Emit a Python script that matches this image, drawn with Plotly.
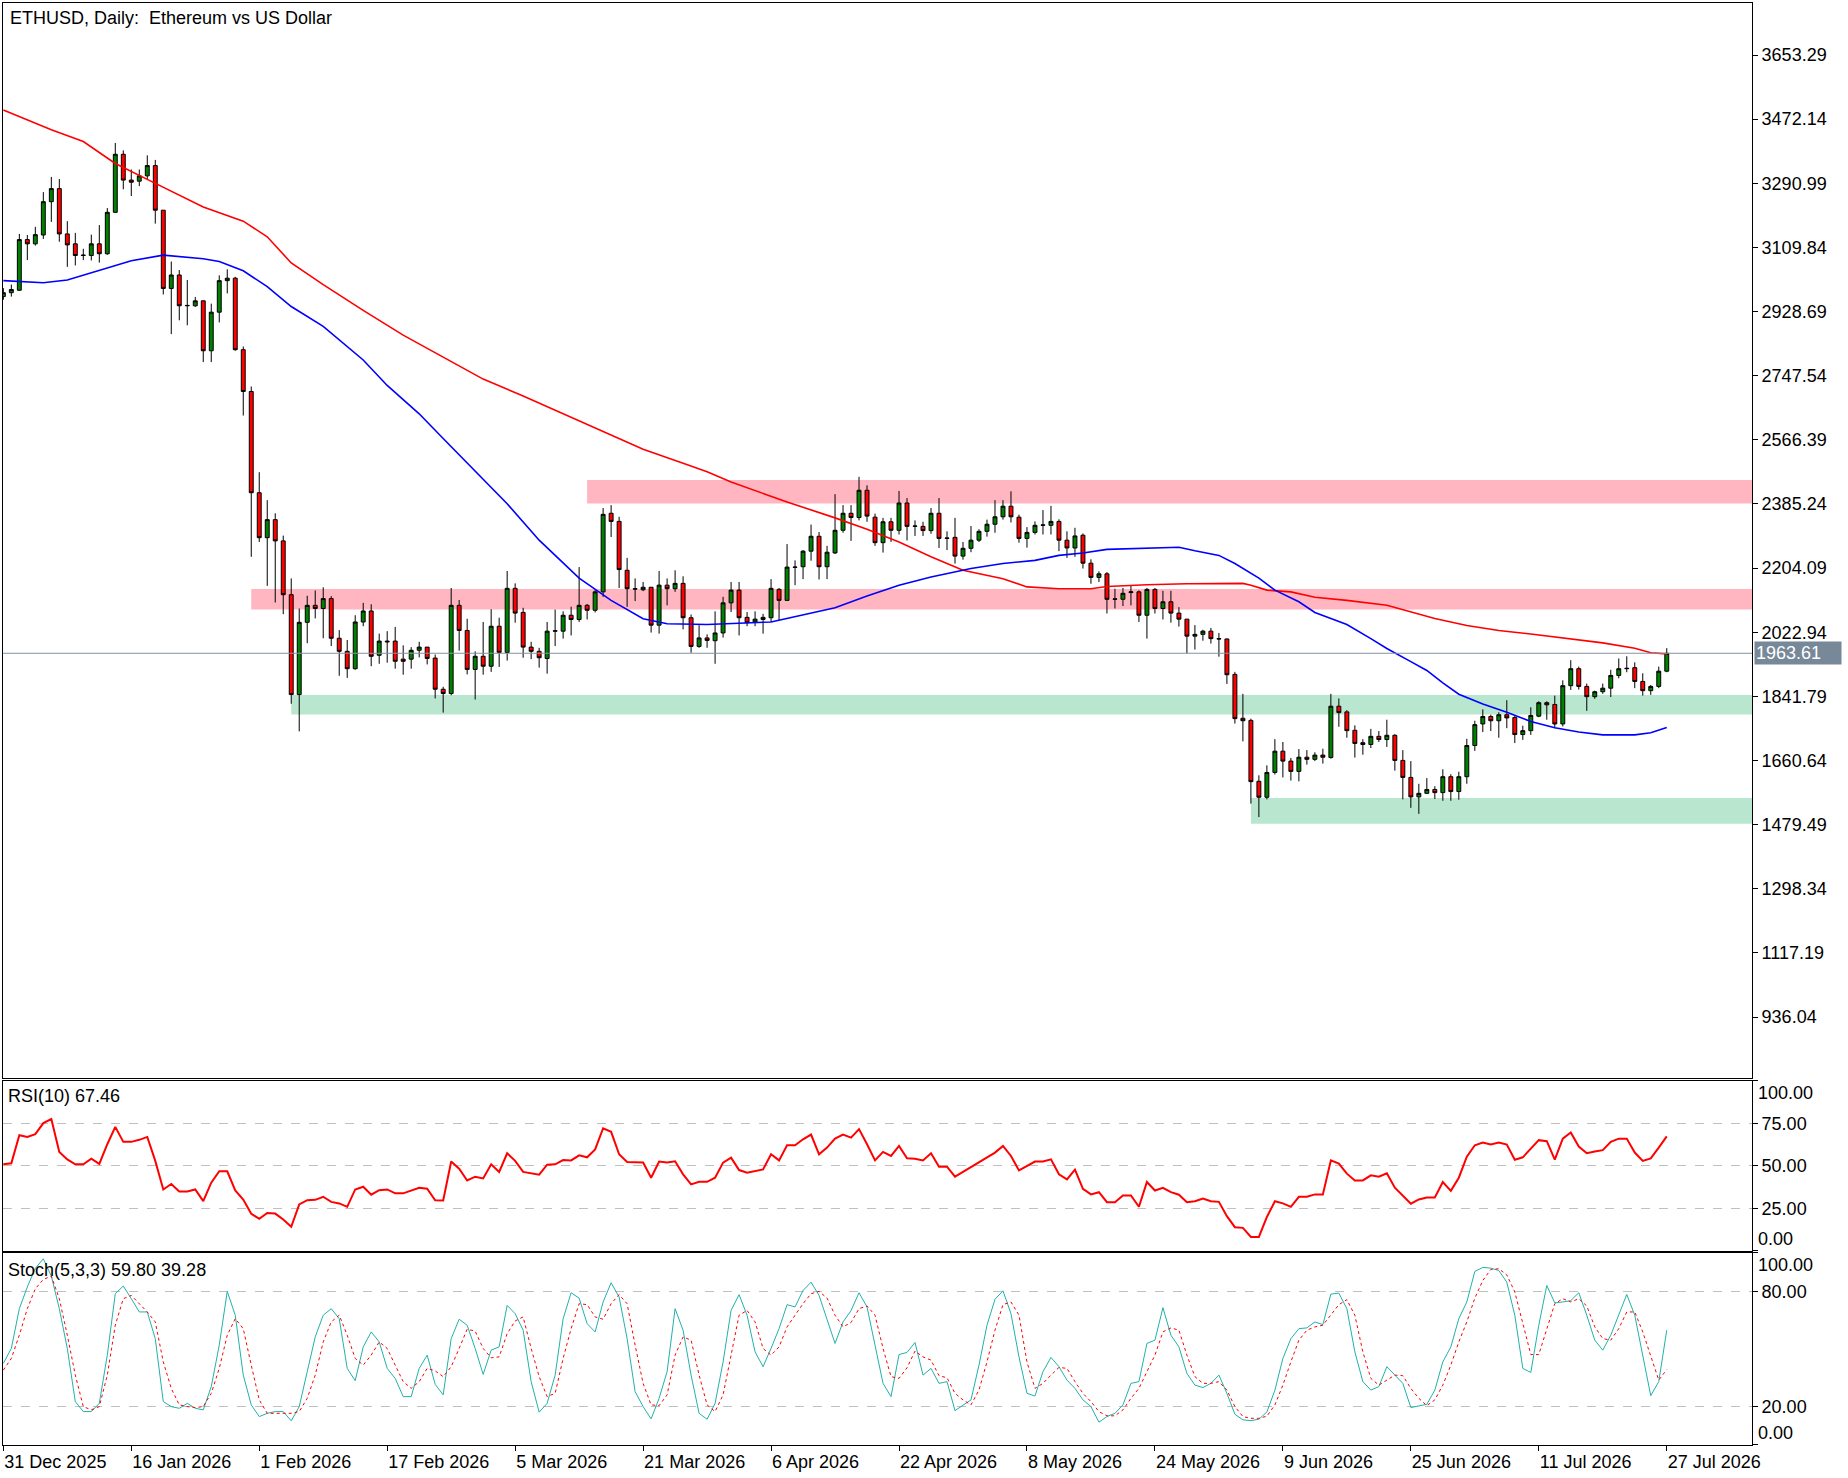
import pandas as pd
import plotly.graph_objects as go
from plotly.subplots import make_subplots

# daily ETHUSD bars, first one is 31 Dec 2025
start = pd.Timestamp("2025-12-31")

opens = [2971, 2982, 2989, 3132, 3120, 3145, 3239, 3276, 3148, 3120,
         3087, 3087, 3120, 3092, 3209, 3373, 3300, 3297, 3312, 3341,
         3215, 2994, 3032, 2945, 2945, 2959, 2818, 2927, 3016, 3023,
         2821, 2703, 2417, 2290, 2341, 2281, 2129, 1847, 2051, 2099,
         2090, 2118, 2006, 1969, 1920, 2052, 2083, 1958, 1998, 1998,
         1947, 1947, 1972, 1981, 1950, 1862, 1850, 2099, 2028, 1918,
         1955, 1927, 2040, 1966, 2147, 2079, 1981, 1969, 1949, 2026,
         2026, 2071, 2059, 2099, 2085, 2137, 2359, 2336, 2198, 2146,
         2143, 2150, 2043, 2156, 2146, 2161, 2064, 1983, 2007, 1999,
         2021, 2106, 2142, 2065, 2052, 2059, 2064, 2144, 2113, 2206,
         2208, 2252, 2294, 2208, 2247, 2311, 2359, 2347, 2424, 2348,
         2276, 2335, 2311, 2388, 2322, 2322, 2310, 2359, 2288, 2291,
         2238, 2260, 2283, 2308, 2328, 2349, 2379, 2348, 2288, 2305,
         2325, 2325, 2336, 2283, 2261, 2297, 2218, 2178, 2188, 2116,
         2116, 2135, 2137, 2071, 2144, 2090, 2109, 2077, 2060, 2012,
         2017, 2026, 2005, 2004, 1904, 1780, 1774, 1602, 1557, 1627,
         1687, 1659, 1630, 1670, 1664, 1676, 1669, 1814, 1798, 1746,
         1711, 1706, 1729, 1720, 1732, 1661, 1613, 1558, 1568, 1579,
         1570, 1615, 1573, 1615, 1703, 1764, 1785, 1773, 1790, 1782,
         1734, 1745, 1786, 1824, 1819, 1764, 1872, 1920, 1870, 1841,
         1855, 1865, 1901, 1920, 1923, 1884, 1858, 1870, 1913]
highs = [2995, 3005, 3148, 3145, 3168, 3266, 3309, 3303, 3184, 3151,
         3106, 3146, 3173, 3221, 3405, 3384, 3330, 3330, 3370, 3357,
         3215, 3070, 3046, 3018, 2970, 2960, 2951, 3031, 3048, 3027,
         2830, 2717, 2475, 2396, 2359, 2296, 2175, 2090, 2126, 2141,
         2150, 2125, 2029, 2001, 2071, 2106, 2102, 2019, 2026, 2038,
         1986, 1981, 1996, 1981, 1960, 1869, 2148, 2114, 2061, 1969,
         2052, 2088, 2064, 2196, 2161, 2092, 1996, 1979, 2052, 2087,
         2082, 2095, 2207, 2103, 2142, 2374, 2382, 2349, 2233, 2175,
         2165, 2151, 2196, 2175, 2198, 2181, 2073, 2043, 2017, 2082,
         2123, 2165, 2165, 2080, 2082, 2075, 2173, 2148, 2272, 2226,
         2255, 2327, 2306, 2267, 2413, 2382, 2382, 2462, 2438, 2358,
         2346, 2346, 2422, 2402, 2339, 2335, 2374, 2402, 2308, 2346,
         2278, 2323, 2314, 2341, 2396, 2396, 2421, 2355, 2320, 2336,
         2368, 2380, 2342, 2308, 2318, 2302, 2229, 2195, 2193, 2146,
         2148, 2156, 2141, 2148, 2148, 2140, 2140, 2094, 2060, 2043,
         2030, 2035, 2021, 2005, 1911, 1849, 1779, 1619, 1647, 1721,
         1713, 1668, 1693, 1690, 1684, 1694, 1849, 1836, 1803, 1760,
         1721, 1750, 1744, 1776, 1735, 1690, 1659, 1595, 1611, 1588,
         1636, 1622, 1629, 1722, 1773, 1805, 1790, 1797, 1831, 1788,
         1759, 1811, 1828, 1828, 1844, 1887, 1944, 1926, 1878, 1858,
         1878, 1917, 1949, 1955, 1938, 1907, 1874, 1926, 1978]
lows = [2962, 2971, 2987, 3074, 3115, 3134, 3182, 3126, 3055, 3059,
        3074, 3073, 3067, 3089, 3207, 3274, 3255, 3283, 3303, 3177,
        2977, 2865, 2904, 2890, 2942, 2786, 2786, 2898, 2980, 2818,
        2635, 2236, 2278, 2154, 2107, 2074, 1821, 1743, 1992, 2062,
        2006, 1984, 1900, 1894, 1917, 2040, 1927, 1934, 1937, 1920,
        1903, 1920, 1952, 1932, 1836, 1796, 1845, 1971, 1904, 1833,
        1903, 1911, 1925, 1943, 2050, 1951, 1947, 1923, 1906, 1984,
        2005, 2014, 2052, 2059, 2079, 2123, 2292, 2148, 2095, 2111,
        2139, 2022, 2019, 2099, 2137, 2031, 1965, 1979, 1979, 1934,
        2008, 2080, 2014, 2040, 2040, 2019, 2052, 2057, 2112, 2156,
        2173, 2225, 2172, 2173, 2244, 2304, 2281, 2339, 2335, 2267,
        2248, 2278, 2299, 2282, 2295, 2295, 2301, 2261, 2255, 2217,
        2228, 2249, 2278, 2293, 2304, 2341, 2333, 2276, 2262, 2299,
        2299, 2299, 2252, 2233, 2236, 2203, 2160, 2165, 2076, 2090,
        2097, 2099, 2052, 2005, 2076, 2059, 2050, 2039, 1963, 1974,
        1999, 1991, 1954, 1877, 1765, 1715, 1539, 1501, 1551, 1621,
        1613, 1604, 1602, 1649, 1659, 1652, 1666, 1756, 1725, 1669,
        1677, 1696, 1713, 1699, 1632, 1551, 1527, 1510, 1567, 1552,
        1547, 1547, 1550, 1595, 1688, 1741, 1744, 1725, 1752, 1710,
        1719, 1733, 1783, 1776, 1752, 1757, 1860, 1861, 1801, 1835,
        1849, 1840, 1893, 1910, 1865, 1844, 1846, 1865, 1910]
closes = [2982, 2991, 3132, 3120, 3146, 3239, 3276, 3148, 3117, 3087,
          3088, 3120, 3092, 3209, 3373, 3300, 3294, 3312, 3341, 3215,
          2994, 3032, 2945, 2946, 2959, 2818, 2927, 3016, 3023, 2821,
          2703, 2417, 2290, 2341, 2281, 2129, 1847, 2051, 2099, 2090,
          2118, 2006, 1969, 1920, 2052, 2083, 1955, 1998, 1996, 1941,
          1941, 1972, 1981, 1949, 1862, 1850, 2099, 2028, 1918, 1955,
          1927, 2040, 1966, 2147, 2077, 1981, 1969, 1951, 2026, 2027,
          2071, 2059, 2099, 2085, 2137, 2356, 2336, 2200, 2146, 2145,
          2150, 2043, 2156, 2146, 2161, 2064, 1983, 2007, 2000, 2021,
          2106, 2142, 2064, 2050, 2060, 2065, 2147, 2113, 2207, 2207,
          2252, 2294, 2208, 2249, 2311, 2359, 2347, 2424, 2351, 2276,
          2335, 2311, 2388, 2322, 2323, 2310, 2359, 2288, 2289, 2238,
          2260, 2283, 2308, 2328, 2349, 2379, 2349, 2288, 2305, 2325,
          2326, 2336, 2283, 2261, 2295, 2218, 2178, 2188, 2116, 2117,
          2133, 2137, 2071, 2144, 2090, 2109, 2077, 2060, 2012, 2017,
          2026, 2005, 2004, 1903, 1779, 1773, 1601, 1557, 1627, 1687,
          1659, 1630, 1670, 1664, 1676, 1670, 1814, 1796, 1745, 1709,
          1706, 1729, 1720, 1732, 1661, 1613, 1558, 1568, 1579, 1570,
          1615, 1573, 1615, 1703, 1762, 1785, 1773, 1790, 1781, 1734,
          1745, 1788, 1824, 1818, 1764, 1872, 1920, 1870, 1841, 1855,
          1865, 1901, 1920, 1921, 1884, 1858, 1870, 1913, 1963.61]

# moving averages, read at a few bars (bar number, price)
ma_red_bar = [0, 6, 10, 14, 18, 21, 25, 30, 33, 36, 40, 45, 50, 55, 60, 65, 70, 75, 80, 85,
              88, 91, 98, 104, 108, 112, 116, 120, 125, 128, 132, 136, 138, 143, 148, 155, 156,
              158, 161, 164, 168, 173, 176, 179, 183, 187, 191, 195, 200, 204, 206, 208]
ma_red = [3498, 3442, 3409, 3347, 3302, 3268, 3224, 3184, 3140, 3066, 3005, 2932, 2862, 2800,
          2738, 2690, 2640, 2590, 2540, 2500, 2476, 2447, 2391, 2346, 2314, 2278, 2236, 2198,
          2174, 2151, 2146, 2146, 2152, 2157, 2160, 2161, 2156, 2142, 2137, 2122, 2113, 2099,
          2080, 2062, 2042, 2028, 2018, 2006, 1993, 1978, 1965, 1962]
ma_blue_bar = [0, 5, 8, 12, 16, 20, 25, 27, 30, 33, 36, 40, 45, 48, 52, 55, 59, 63, 67, 72, 76,
               80, 83, 88, 96, 100, 104, 108, 112, 116, 121, 125, 129, 132, 135, 138, 143, 147,
               149, 152, 154, 157, 159, 162, 164, 168, 171, 173, 176, 178, 180, 182, 185, 188,
               191, 194, 197, 200, 204, 206, 208]
ma_blue = [3016, 3010, 3018, 3044, 3072, 3088, 3078, 3070, 3044, 2999, 2943, 2887, 2792, 2720,
           2640, 2570, 2478, 2386, 2283, 2176, 2113, 2061, 2047, 2045, 2052, 2071, 2092, 2125,
           2156, 2179, 2203, 2217, 2226, 2240, 2247, 2257, 2261, 2263, 2253, 2240, 2217, 2176,
           2142, 2109, 2079, 2045, 2005, 1977, 1940, 1915, 1880, 1848, 1820, 1797, 1771, 1753,
           1741, 1733, 1733, 1739, 1754]

rsi = [51.0, 51.6, 68.1, 67.1, 68.7, 75.2, 77.6, 58.3, 53.9, 51.0,
       51.0, 54.3, 51.2, 62.8, 73.0, 64.2, 64.2, 65.4, 67.1, 53.0,
       36.2, 39.4, 35.0, 35.0, 36.2, 29.3, 40.2, 46.9, 46.9, 35.6,
       30.3, 21.9, 18.9, 22.4, 22.0, 18.5, 14.2, 27.4, 29.9, 30.1,
       31.9, 28.9, 28.0, 26.0, 36.2, 37.8, 33.1, 35.8, 36.2, 33.9,
       33.9, 35.6, 37.2, 36.6, 29.8, 29.7, 52.6, 48.4, 41.5, 43.7,
       42.7, 51.0, 46.5, 57.5, 53.0, 46.5, 45.9, 44.9, 50.8, 51.0,
       53.5, 53.3, 56.3, 55.1, 59.8, 72.2, 70.1, 56.9, 52.4, 52.0,
       52.0, 43.1, 52.6, 52.0, 52.8, 45.1, 39.2, 40.7, 40.7, 43.1,
       52.0, 54.9, 47.6, 46.1, 47.0, 48.0, 56.9, 53.3, 62.2, 62.2,
       65.7, 68.5, 56.9, 60.8, 66.1, 68.5, 66.7, 71.7, 62.8, 53.3,
       58.3, 55.9, 61.8, 54.5, 54.3, 53.3, 57.5, 49.6, 49.6, 43.7,
       46.5, 49.4, 52.6, 55.3, 57.9, 61.8, 55.9, 47.4, 50.0, 52.6,
       52.6, 53.9, 45.1, 42.1, 47.8, 36.6, 33.3, 34.6, 28.7, 28.7,
       32.7, 32.7, 26.0, 40.6, 35.6, 37.2, 34.6, 33.1, 28.7, 29.3,
       30.9, 29.3, 28.9, 20.5, 14.0, 13.6, 8.3, 8.3, 20.0, 29.3,
       28.0, 26.0, 31.9, 31.9, 33.3, 33.3, 53.3, 51.4, 45.5, 41.5,
       41.5, 44.5, 43.7, 45.7, 37.2, 32.3, 27.8, 30.3, 31.5, 31.5,
       40.6, 35.4, 43.1, 55.5, 62.2, 63.8, 62.6, 63.8, 62.6, 53.7,
       55.1, 60.2, 65.2, 64.6, 53.7, 66.1, 69.7, 61.4, 57.5, 58.5,
       59.3, 64.2, 66.1, 66.1, 57.9, 53.0, 54.5, 60.8, 67.46]

stoch_k = [42.5, 50.3, 71.0, 82.3, 92.0, 97.0, 88.0, 71.0, 50.3, 22.6,
           17.4, 17.4, 21.7, 46.8, 78.8, 82.8, 76.2, 69.3, 69.3, 55.4,
           22.6, 20.0, 19.1, 21.7, 19.1, 18.3, 30.4, 52.0, 80.0, 67.6,
           36.4, 20.9, 14.8, 16.5, 17.4, 17.4, 12.6, 20.0, 38.2, 56.3,
           67.6, 71.0, 65.8, 39.9, 33.5, 51.1, 58.9, 53.7, 39.9, 34.7,
           25.2, 25.2, 39.9, 46.8, 31.6, 26.1, 55.4, 65.5, 62.4, 50.3,
           36.8, 49.4, 51.1, 72.7, 68.4, 59.8, 33.0, 17.1, 21.7, 36.4,
           65.8, 79.3, 76.5, 63.2, 58.9, 74.5, 84.5, 77.1, 55.4, 27.8,
           20.0, 13.6, 24.3, 38.2, 71.0, 59.8, 36.4, 16.5, 13.4, 21.7,
           43.3, 70.1, 78.3, 67.6, 48.5, 40.8, 50.3, 60.6, 73.1, 71.9,
           80.5, 84.8, 77.9, 65.8, 52.9, 64.1, 70.0, 79.3, 71.9, 52.0,
           32.1, 25.2, 47.1, 48.2, 53.4, 36.4, 39.9, 32.1, 33.0, 17.9,
           20.5, 23.5, 41.6, 62.4, 75.9, 80.3, 68.4, 45.9, 26.9, 25.5,
           38.2, 45.6, 40.8, 33.8, 29.5, 23.5, 20.0, 11.9, 14.8, 16.5,
           20.9, 32.1, 33.0, 52.9, 54.6, 71.5, 57.2, 51.1, 37.3, 31.2,
           29.9, 32.1, 36.4, 26.9, 16.0, 13.1, 12.7, 13.4, 17.2, 28.5,
           45.1, 55.4, 60.6, 61.0, 64.1, 62.7, 78.6, 79.1, 71.0, 48.5,
           33.0, 28.6, 30.4, 40.8, 36.4, 32.1, 19.5, 20.5, 21.2, 28.6,
           43.3, 51.1, 65.8, 74.5, 90.4, 92.5, 92.1, 90.9, 84.8, 67.6,
           39.9, 37.8, 62.4, 83.1, 74.0, 74.5, 75.2, 79.3, 67.6, 54.6,
           49.4, 57.2, 67.6, 78.4, 67.6, 46.8, 25.7, 33.0, 59.80]
stoch_d = [39.0, 45.1, 57.2, 71.0, 81.4, 86.2, 88.0, 76.2, 57.2, 36.4,
           20.0, 18.3, 20.0, 36.4, 62.4, 76.2, 77.9, 73.6, 69.3, 64.1,
           43.3, 29.5, 20.9, 20.0, 19.5, 20.0, 26.9, 39.9, 57.2, 65.8,
           60.6, 41.6, 23.5, 16.5, 16.5, 16.5, 16.5, 17.4, 24.3, 36.4,
           53.7, 64.1, 67.6, 57.2, 45.1, 41.6, 46.8, 53.7, 50.3, 41.6,
           33.0, 29.5, 33.0, 39.9, 38.6, 35.6, 40.8, 50.3, 60.3, 59.3,
           50.3, 45.4, 45.9, 58.0, 64.6, 66.7, 50.3, 35.6, 25.2, 26.9,
           45.1, 60.6, 73.6, 73.1, 66.7, 65.5, 73.6, 78.3, 73.6, 52.0,
           32.1, 20.9, 20.5, 26.1, 46.8, 56.3, 54.6, 36.4, 20.9, 17.4,
           26.1, 46.8, 67.6, 70.1, 64.1, 50.3, 46.8, 51.1, 61.5, 67.6,
           73.6, 78.8, 80.0, 76.5, 67.6, 61.5, 63.8, 71.0, 72.4, 67.6,
           50.3, 35.6, 34.7, 40.2, 48.9, 45.9, 44.2, 36.1, 35.0, 26.9,
           23.5, 20.9, 28.6, 43.3, 59.8, 73.1, 74.5, 67.6, 43.3, 29.5,
           32.1, 36.4, 40.4, 39.9, 33.0, 26.9, 22.6, 17.4, 15.2, 15.2,
           18.3, 24.3, 29.5, 38.2, 46.8, 58.9, 61.0, 59.8, 46.8, 35.6,
           32.1, 32.1, 33.0, 28.6, 20.0, 14.8, 13.9, 13.9, 15.0, 20.9,
           31.2, 43.3, 54.6, 59.8, 61.5, 62.4, 67.6, 73.1, 75.7, 67.6,
           48.5, 34.7, 31.2, 33.8, 36.4, 36.1, 29.5, 24.3, 20.5, 23.5,
           31.2, 41.6, 53.7, 64.1, 76.5, 85.7, 91.4, 91.8, 88.6, 79.7,
           64.1, 47.1, 47.1, 60.6, 73.6, 76.2, 74.5, 76.2, 72.4, 61.5,
           55.4, 54.6, 60.6, 69.3, 69.3, 58.9, 46.8, 33.8, 39.28]

# support / resistance zones: first bar, low, high
zone_start = [73, 31, 36, 156]
zone_low = [2386.3, 2086.9, 1790.4, 1482.0]
zone_high = [2453.0, 2145.3, 1845.9, 1555.0]
zone_color = ["#ffb6c1", "#ffb6c1", "#b9e6cf", "#b9e6cf"]

last_price = 1963.61

price_ticks = [3653.29, 3472.14, 3290.99, 3109.84, 2928.69, 2747.54, 2566.39, 2385.24,
               2204.09, 2022.94, 1841.79, 1660.64, 1479.49, 1298.34, 1117.19, 936.04]
date_ticks = ["2025-12-31", "2026-01-16", "2026-02-01", "2026-02-17", "2026-03-05",
              "2026-03-21", "2026-04-06", "2026-04-22", "2026-05-08", "2026-05-24",
              "2026-06-09", "2026-06-25", "2026-07-11", "2026-07-27"]
date_labels = ["31 Dec 2025", "16 Jan 2026", "1 Feb 2026", "17 Feb 2026", "5 Mar 2026",
               "21 Mar 2026", "6 Apr 2026", "22 Apr 2026", "8 May 2026", "24 May 2026",
               "9 Jun 2026", "25 Jun 2026", "11 Jul 2026", "27 Jul 2026"]

FONT = "Liberation Sans"
dates = pd.date_range(start, periods=len(closes), freq="D")
x_left = start - pd.Timedelta(hours=1)
x_right = start + pd.Timedelta(days=218.66)


def bar_dates(bars):
    return [start + pd.Timedelta(days=b) for b in bars]


fig = make_subplots(rows=3, cols=1, shared_xaxes=True, vertical_spacing=0)

fig.add_trace(go.Candlestick(
    x=dates, open=opens, high=highs, low=lows, close=closes,
    increasing=dict(fillcolor="#008000", line=dict(color="black", width=1)),
    decreasing=dict(fillcolor="#ff0000", line=dict(color="black", width=1)),
    whiskerwidth=0, showlegend=False, hoverinfo="skip"), row=1, col=1)

fig.add_trace(go.Scatter(x=bar_dates(ma_red_bar), y=ma_red, mode="lines",
                         line=dict(color="#ff0000", width=1.6), showlegend=False), row=1, col=1)
fig.add_trace(go.Scatter(x=bar_dates(ma_blue_bar), y=ma_blue, mode="lines",
                         line=dict(color="#0000ff", width=1.6), showlegend=False), row=1, col=1)

fig.add_trace(go.Scatter(x=dates, y=rsi, mode="lines",
                         line=dict(color="#ff0000", width=2), showlegend=False), row=2, col=1)
fig.add_trace(go.Scatter(x=dates, y=stoch_k, mode="lines",
                         line=dict(color="#20b2aa", width=1), showlegend=False), row=3, col=1)
fig.add_trace(go.Scatter(x=dates, y=stoch_d, mode="lines",
                         line=dict(color="#ff0000", width=1, dash="3px,3px"), showlegend=False),
              row=3, col=1)

# zones
for s, lo, hi, col in zip(zone_start, zone_low, zone_high, zone_color):
    fig.add_shape(type="rect", xref="x", yref="y", x0=start + pd.Timedelta(days=s), x1=x_right,
                  y0=lo, y1=hi, fillcolor=col, line=dict(width=0), layer="below")

# last price line and box
fig.add_shape(type="line", xref="x domain", yref="y", x0=0, x1=1, y0=last_price, y1=last_price,
              line=dict(color="#8593a3", width=1))
fig.add_annotation(xref="paper", yref="y", x=1, y=last_price, xanchor="left", xshift=2,
                   text=f"{last_price:.2f}", showarrow=False, bgcolor="#778899",
                   font=dict(family=FONT, size=18, color="white"), borderpad=1, width=84,
                   align="left")

axis_common = dict(showline=True, mirror=True, linecolor="black", linewidth=1,
                   zeroline=False, tickfont=dict(family=FONT, size=18, color="black"))

fig.update_xaxes(range=[x_left, x_right], showgrid=False, showticklabels=False,
                 ticks="", rangeslider_visible=False, **axis_common)
fig.update_xaxes(row=3, col=1, showticklabels=True, tickvals=date_ticks, ticktext=date_labels,
                 ticks="outside", ticklen=5, tickcolor="black", ticklabelposition="outside right")

fig.update_yaxes(row=1, col=1, side="right", range=[764.0, 3800.2], tickvals=price_ticks,
                 ticktext=[f"{v:.2f}" for v in price_ticks], ticks="outside", ticklen=5,
                 tickcolor="black", showgrid=False, domain=[0.25451, 1.0], **axis_common)
fig.update_yaxes(row=2, col=1, side="right", range=[0, 100], tickvals=[0, 25, 50, 75, 100],
                 ticktext=["", "25.00", "50.00", "75.00", ""], ticks="outside", ticklen=5,
                 tickcolor="black", showgrid=True, gridcolor="#c0c0c0", griddash="dash",
                 domain=[0.13454, 0.25243], **axis_common)
fig.update_yaxes(row=3, col=1, side="right", range=[0, 100], tickvals=[0, 20, 80, 100],
                 ticktext=["", "20.00", "80.00", ""], ticks="outside", ticklen=5,
                 tickcolor="black", showgrid=True, gridcolor="#c0c0c0", griddash="dash",
                 domain=[0.0, 0.13315], **axis_common)

label_font = dict(family=FONT, size=18, color="black")
# edge labels of the oscillator scales
for yref, val, anchor in [("y2", 100, "top"), ("y2", 0, "bottom"),
                          ("y3", 100, "top"), ("y3", 0, "bottom")]:
    fig.add_annotation(xref="paper", yref=yref, x=1, y=val, xanchor="left", yanchor=anchor,
                       xshift=4, text="100.00" if val == 100 else "0.00", showarrow=False,
                       font=label_font)

fig.add_annotation(xref="paper", yref="y domain", x=0, y=1, xanchor="left", yanchor="top",
                   xshift=5, yshift=-3, text="ETHUSD, Daily:  Ethereum vs US Dollar",
                   showarrow=False, font=label_font)
fig.add_annotation(xref="paper", yref="y2 domain", x=0, y=1, xanchor="left", yanchor="top",
                   xshift=3, yshift=-3, text=f"RSI(10) {rsi[-1]:.2f}",
                   showarrow=False, font=label_font)
fig.add_annotation(xref="paper", yref="y3 domain", x=0, y=1, xanchor="left", yanchor="top",
                   xshift=3, yshift=-5, text=f"Stoch(5,3,3) {stoch_k[-1]:.2f} {stoch_d[-1]:.2f}",
                   showarrow=False, font=label_font)

fig.update_layout(width=1848, height=1478, margin=dict(l=3, r=96, t=3, b=33),
                  paper_bgcolor="white", plot_bgcolor="white",
                  font=dict(family=FONT, size=18, color="black"), showlegend=False)

fig.write_html("out.html", config={"displayModeBar": False},
               post_script="document.body.style.margin='0px';")
